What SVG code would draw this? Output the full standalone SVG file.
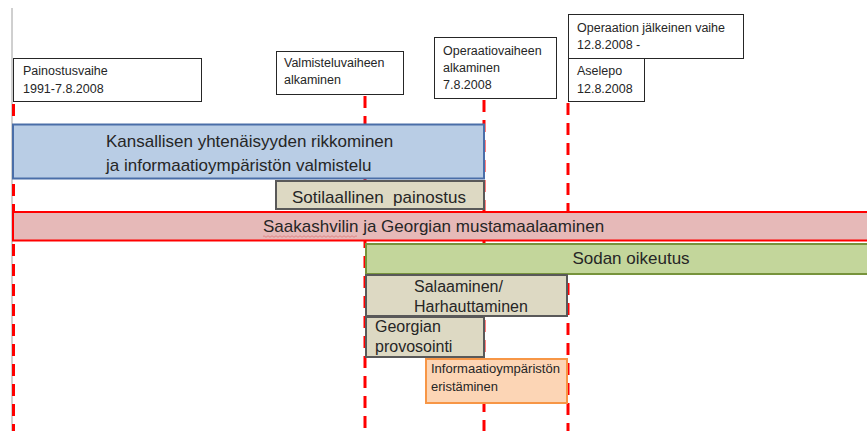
<svg xmlns="http://www.w3.org/2000/svg" width="867" height="431" viewBox="0 0 867 431">
<style>
text{font-family:"Liberation Sans",Arial,sans-serif;fill:#262626}
.lbl{font-size:12.5px}
.big{font-size:17px}
.mid{font-size:16px}
.lb{fill:#fff;stroke:#262626;stroke-width:1}
.dash{stroke:#ff0000;stroke-width:3;stroke-dasharray:12 8;fill:none}
.tan{fill:#ddd9c3;stroke:#595959;stroke-width:2}
</style>
<rect width="867" height="431" fill="#fff"/>
<g id="connectors">
<line x1="12" y1="8" x2="12" y2="431" stroke="#a0a0a0" stroke-width="1"/>
<line class="dash" x1="13.5" y1="104" x2="13.5" y2="431"/>
<line class="dash" x1="365" y1="96" x2="365" y2="431"/>
<line class="dash" x1="484" y1="100" x2="484" y2="431"/>
<line class="dash" x1="568" y1="103" x2="568" y2="431"/>
</g>
<g id="label-painostus">
<rect class="lb" x="13.5" y="58.5" width="188" height="43"/>
<text class="lbl" x="23" y="75">Painostusvaihe</text>
<text class="lbl" x="23" y="93">1991-7.8.2008</text>
</g>
<g id="label-valmistelu">
<rect class="lb" x="276.5" y="51.5" width="127" height="43"/>
<text class="lbl" x="284" y="67">Valmisteluvaiheen</text>
<text class="lbl" x="284" y="84">alkaminen</text>
</g>
<g id="label-operaatio">
<rect class="lb" x="434.5" y="37.5" width="122" height="61"/>
<text class="lbl" x="443" y="55">Operaatiovaiheen</text>
<text class="lbl" x="443" y="72">alkaminen</text>
<text class="lbl" x="443" y="89">7.8.2008</text>
</g>
<g id="label-jalkeinen">
<rect class="lb" x="568.5" y="14.5" width="175" height="44"/>
<text class="lbl" x="577" y="32">Operaation jälkeinen vaihe</text>
<text class="lbl" x="577" y="49">12.8.2008 -</text>
</g>
<g id="label-aselepo">
<rect class="lb" x="568.5" y="58.5" width="76" height="43"/>
<text class="lbl" x="577" y="75">Aselepo</text>
<text class="lbl" x="577" y="93">12.8.2008</text>
</g>
<g id="bar-kansallisen">
<rect x="13" y="124.5" width="471" height="54" fill="#b9cde5" stroke="#4a6ea8" stroke-width="2"/>
<text class="big" x="106" y="147">Kansallisen yhtenäisyyden rikkominen</text>
<text class="big" x="106" y="171">ja informaatioympäristön valmistelu</text>
</g>
<g id="bar-sotilaallinen">
<rect class="tan" x="276" y="181" width="208" height="28"/>
<text class="big" x="292" y="203" xml:space="preserve">Sotilaallinen  painostus</text>
</g>
<g id="bar-saakashvili">
<rect x="13" y="212" width="860" height="28.5" fill="#e6b9b8" stroke="#ff0000" stroke-width="2"/>
<text class="big" x="263" y="232">Saakashvilin ja Georgian mustamaalaaminen</text>
<path d="M263 236.5 q1 -1.5 2 0 t2 0 t2 0 t2 0 t2 0 t2 0 t2 0 t2 0 t2 0 t2 0 t2 0 t2 0 t2 0 t2 0 t2 0 t2 0 t2 0 t2 0 t2 0 t2 0 t2 0 t2 0 t2 0 t2 0 t2 0 t2 0 t2 0 t2 0 t2 0 t2 0 t2 0 t2 0 t2 0 t2 0 t2 0 t2 0 t2 0 t2 0 t2 0 t2 0 t2 0 t2 0 t2 0 t2 0 t2 0 t2 0 t2 0" fill="none" stroke="#e07878" stroke-width="0.8"/>
</g>
<g id="bar-sodan">
<rect x="366" y="244" width="507" height="30" fill="#c3d69b" stroke="#77933c" stroke-width="2"/>
<text class="big" x="631" y="264" text-anchor="middle">Sodan oikeutus</text>
</g>
<g id="box-salaaminen">
<rect class="tan" x="366" y="275" width="201" height="41"/>
<text class="mid" x="414" y="292">Salaaminen/</text>
<text class="mid" x="414" y="312">Harhauttaminen</text>
</g>
<g id="box-georgian">
<rect class="tan" x="366" y="317" width="118" height="40"/>
<text class="mid" x="375" y="332">Georgian</text>
<text class="mid" x="375" y="352">provosointi</text>
</g>
<g id="box-informaatio">
<rect x="426" y="359" width="141" height="44" fill="#fcd5b5" stroke="#f79646" stroke-width="2"/>
<text x="431" y="373" font-size="12" textLength="129" lengthAdjust="spacingAndGlyphs">Informaatioympäristön</text>
<text x="431" y="391" font-size="12" textLength="67" lengthAdjust="spacingAndGlyphs">eristäminen</text>
</g>
</svg>
